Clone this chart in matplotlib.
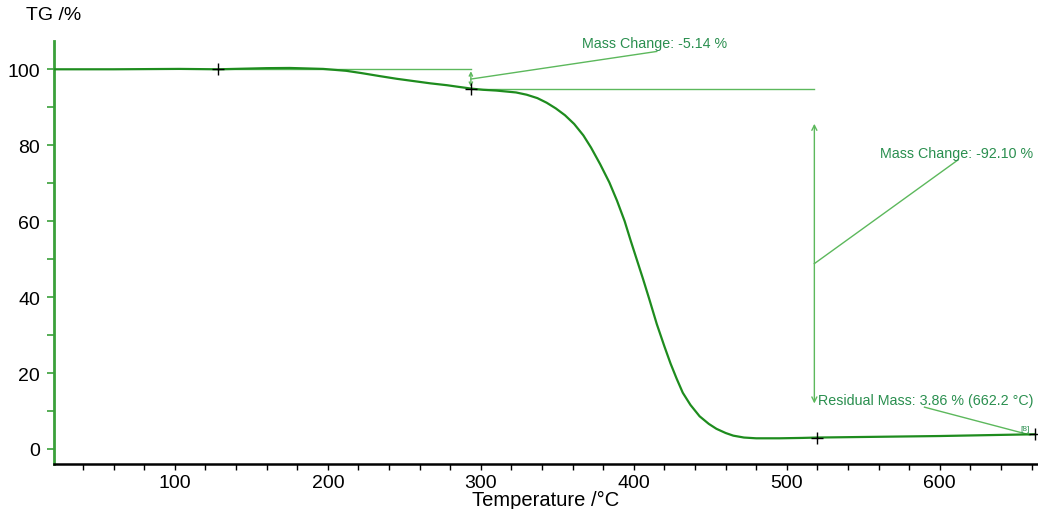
import matplotlib
matplotlib.use("Agg")
import matplotlib.pyplot as plt
from matplotlib.ticker import MultipleLocator

plt.rcParams['font.family'] = ['Liberation Sans', 'DejaVu Sans']

# TG curve (temperature in °C, mass in %)
temperature = [21, 60, 103, 128, 160, 175, 197, 212, 222, 234, 245, 256, 267, 278, 285,
               294, 301.5, 310, 323, 330, 337, 343, 349, 355, 361, 367, 372, 378, 384,
               389, 394, 398, 402, 406, 410, 415, 420, 424, 428, 432, 437, 443, 449,
               454, 460, 465, 472, 480, 495, 510, 520, 560, 600, 640, 662.2]
tg = [100.0, 100.0, 100.1, 100.0, 100.3, 100.35, 100.1, 99.6, 99.0, 98.2, 97.5, 96.9,
      96.3, 95.8, 95.4, 94.9, 94.6, 94.4, 93.9, 93.3, 92.4, 91.2, 89.7, 87.9, 85.6,
      82.6, 79.4, 75.0, 70.2, 65.4, 60.0, 54.8, 49.8, 44.8, 39.6, 32.9, 27.0, 22.5,
      18.5, 14.8, 11.6, 8.6, 6.6, 5.3, 4.2, 3.5, 3.0, 2.8, 2.8, 2.9, 3.0, 3.2, 3.4,
      3.7, 3.86]

# evaluation markers
marker_t = [128, 293.5, 519.6, 662.2]
marker_tg = [100.0, 94.9, 3.0, 3.86]

# step evaluations
step1_start_t, step1_end_t = 128, 293.5
step1_change = -5.14
step2_t = 518
step2_change = -92.10
residual_t, residual_mass = 662.2, 3.86

curve_color = '#1e8c1e'
ann_color = '#5cb85c'
text_color = '#2a8f4f'

fig = plt.figure(figsize=(10.38, 5.10), dpi=100)
ax = fig.add_axes([0.052, 0.088, 0.947, 0.830])

ax.plot(temperature, tg, color=curve_color, lw=1.6, zorder=3,
        solid_joinstyle='round')
ax.plot(marker_t, marker_tg, ls='none', marker='+', ms=9, mew=1.0,
        color='black', zorder=4)

# step 1: horizontal levels and double arrow
level0 = 100.0
level1 = level0 + step1_change
level2 = level1 + step2_change
ax.plot([step1_start_t, step1_end_t], [level0, level0], color=ann_color, lw=1.0)
ax.plot([step1_end_t, step2_t], [level1, level1], color=ann_color, lw=1.0)


def double_arrow(x, top, bottom, head):
    span = top - bottom
    pad = 0.1 * span
    ax.annotate('', xy=(x, top - pad), xytext=(x, bottom + pad),
                arrowprops=dict(arrowstyle='<->', color=ann_color, lw=1.0,
                                mutation_scale=head, shrinkA=0, shrinkB=0))
    return (top + bottom) / 2


mid1 = double_arrow(step1_end_t, level0, level1, 6)
ax.plot([step1_end_t, 415], [mid1, 104.7], color=ann_color, lw=1.0)
ax.text(366, 106.8, f'Mass Change: {step1_change:.2f} %', color=text_color,
        fontsize=10.3, va='center', ha='left')

# step 2
mid2 = double_arrow(step2_t, level1, level2, 9)
ax.plot([step2_t, 611.8], [mid2, 76.1], color=ann_color, lw=1.0)
ax.text(560.8, 78.0, f'Mass Change: {step2_change:.2f} %', color=text_color,
        fontsize=10.3, va='center', ha='left')

# residual mass
ax.plot([590, 658.8], [11.0, 3.7], color=ann_color, lw=1.0)
ax.text(520.3, 12.9, f'Residual Mass: {residual_mass:.2f} % ({residual_t:.1f} °C)',
        color=text_color, fontsize=10.3, va='center', ha='left')
ax.text(656, 5.4, '[8]', color=text_color, fontsize=6, va='center', ha='center')

ax.set_xlim(21, 663.5)
ax.set_ylim(-4, 107.5)
ax.xaxis.set_major_locator(MultipleLocator(100))
ax.xaxis.set_minor_locator(MultipleLocator(20))
ax.yaxis.set_major_locator(MultipleLocator(20))
ax.yaxis.set_minor_locator(MultipleLocator(10))

for side in ('top', 'right'):
    ax.spines[side].set_visible(False)
ax.spines['left'].set_color('#3aa03a')
ax.spines['left'].set_linewidth(2.0)
ax.spines['bottom'].set_color('black')
ax.spines['bottom'].set_linewidth(1.8)

ax.tick_params(axis='x', which='both', direction='out', colors='black',
               labelsize=14, length=4, width=1.0, pad=3)
ax.tick_params(axis='y', which='both', direction='out', color='#3aa03a',
               labelcolor='black', labelsize=14, length=5, width=1.2, pad=5)

ax.set_xlabel('Temperature /°C', fontsize=14.5)
ax.xaxis.set_label_coords(0.5, -0.062)
fig.text(0.025, 0.97, 'TG /%', fontsize=14, ha='left', va='center')

fig.savefig('out.png', dpi=100, facecolor='white')
